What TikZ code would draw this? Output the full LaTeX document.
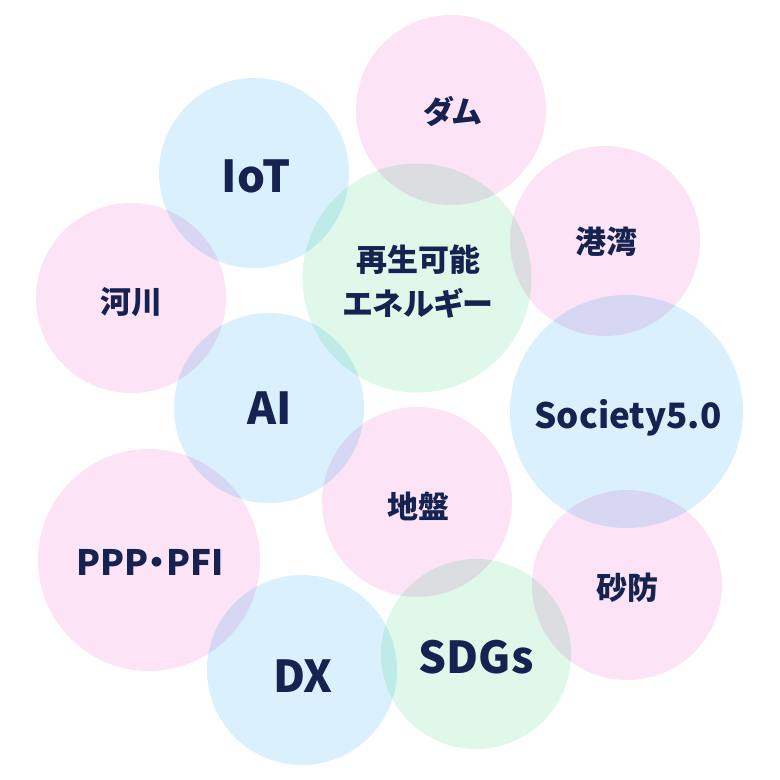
\documentclass[tikz,border=0pt]{standalone}
\usepackage{fontspec}
\newfontfamily\jp{Noto Sans CJK JP}
\newfontfamily\jpp{Noto Sans CJK JP}[RawFeature=+palt]
\definecolor{cpink}{HTML}{FCE4F6}
\definecolor{cblue}{HTML}{DAF1FD}
\definecolor{cgreen}{HTML}{DFF8E9}
\definecolor{navy}{HTML}{16224F}
\tikzset{
  bub/.style={circle, inner sep=0pt, draw=none, minimum size=190pt},
  pinkb/.style={bub, fill=cpink},
  blueb/.style={bub, fill=cblue},
  greenb/.style={bub, fill=cgreen},
  jlbl/.style={text=navy, inner sep=0pt, font=\jp\bfseries\fontsize{31}{31}\selectfont},
  klbl/.style={text=navy, inner sep=0pt, font=\jpp\bfseries\fontsize{31}{31}\selectfont},
  biglbl/.style={text=navy, inner sep=0pt, anchor=base, font=\jpp\bfseries\fontsize{44}{44}\selectfont},
  midlbl/.style={text=navy, inner sep=0pt, anchor=base, font=\jpp\bfseries\fontsize{35}{35}\selectfont}
}
\begin{document}
\begin{tikzpicture}[x=1pt,y=-1pt]
\useasboundingbox (0,0) rectangle (780,780);
\fill[white] (0,0) rectangle (780,780);
\begin{scope}[blend group=multiply]
  \node[pinkb] (dam) at (451,110) {};
  \node[blueb] (iot) at (254,173) {};
  \node[greenb, minimum size=229pt] (ene) at (417,278) {};
  \node[pinkb] (kowan) at (605,241) {};
  \node[pinkb] (kasen) at (131,298) {};
  \node[blueb] (ai) at (269,408) {};
  \node[blueb, minimum size=233pt] (soc) at (626.5,411.5) {};
  \node[pinkb] (jiban) at (417,502) {};
  \node[pinkb, minimum size=222pt] (ppp) at (149,560) {};
  \node[pinkb] (sabo) at (627,585) {};
  \node[blueb] (dx) at (302,670) {};
  \node[greenb] (sdgs) at (476,654) {};
\end{scope}
\node[klbl] (tdam) at (452,111) {ダム};
\node[biglbl] (tiot) at (256,192) {IoT};
\node[klbl] (tene1) at (418,260) {再生可能};
\node[klbl] (tene2) at (418,303) {エネルギー};
\node[jlbl] (tkowan) at (606,242) {港湾};
\node[jlbl] (tkasen) at (131,302) {河川};
\node[biglbl] (tai) at (270,424) {AI};
\node[midlbl] (tsoc) at (628,428) {Society5.0};
\node[jlbl] (tjiban) at (418,506) {地盤};
\node[midlbl] (tppp) at (150,575) {PPP・PFI};
\node[jlbl] (tsabo) at (627,588) {砂防};
\node[biglbl] (tdx) at (303,692) {DX};
\node[biglbl] (tsdgs) at (476,673) {SDGs};
\end{tikzpicture}
\end{document}
